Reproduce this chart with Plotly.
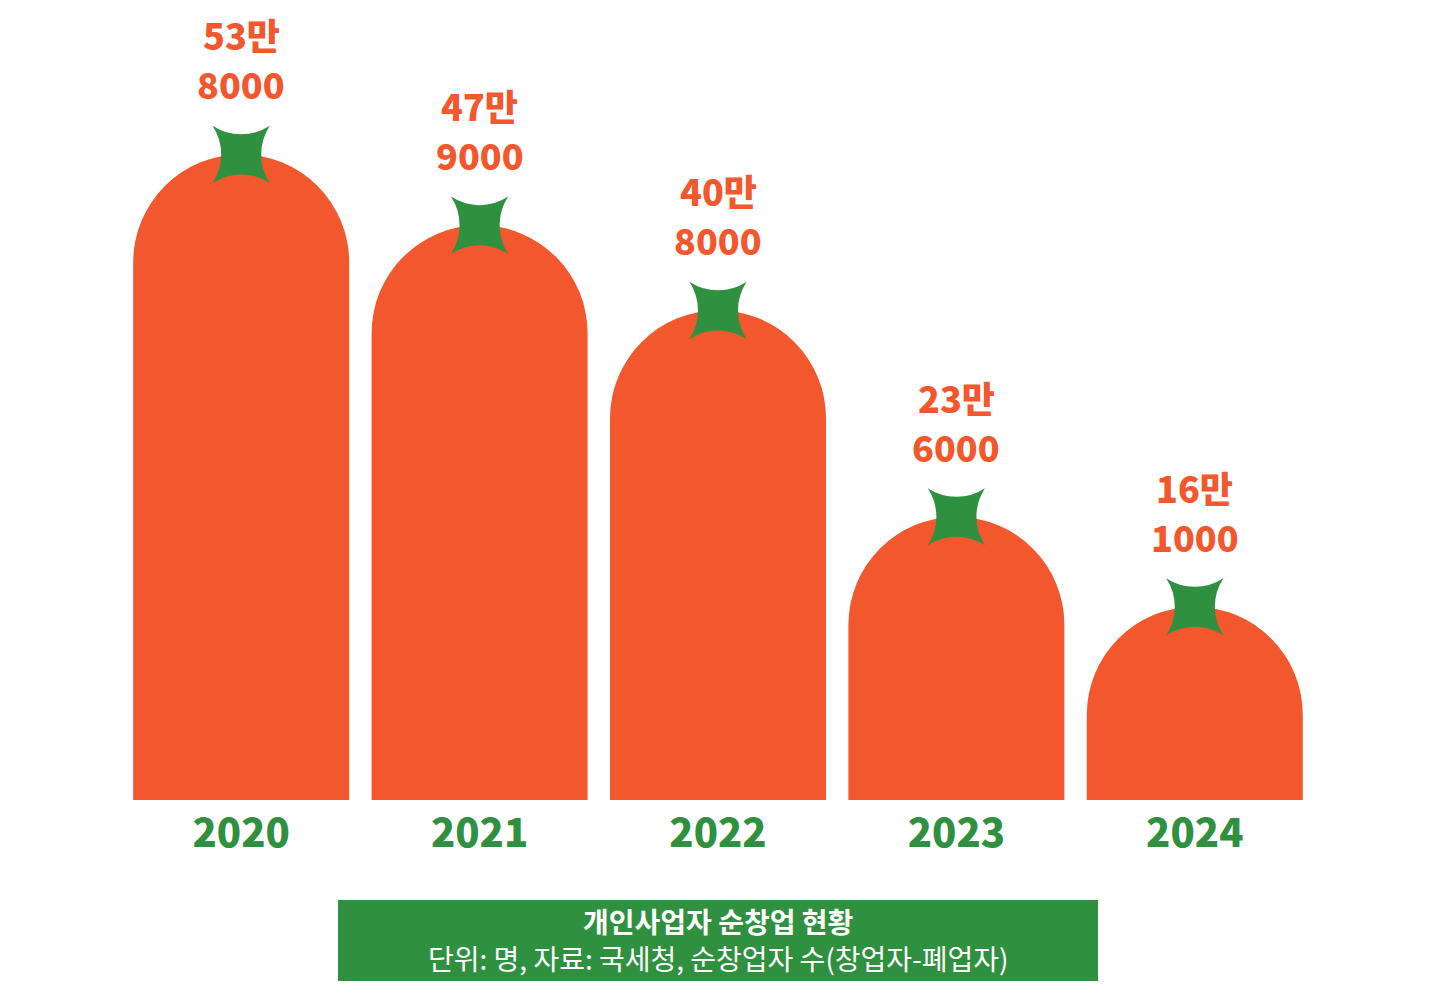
import plotly.graph_objects as go

# 개인사업자 순창업 현황 (단위: 명)
years = [2020, 2021, 2022, 2023, 2024]
year_labels = ["2020", "2021", "2022", "2023", "2024"]
net_startups = [538000, 479000, 408000, 236000, 161000]
label_man = ["53만", "47만", "40만", "23만", "16만"]
label_rest = ["8000", "9000", "8000", "6000", "1000"]

caption_title = "개인사업자 순창업 현황"
caption_note = "단위: 명, 자료: 국세청, 순창업자 수(창업자-폐업자)"

orange = "#F2572D"
green = "#2F9140"
font_face = "Noto Sans CJK KR"

fig = go.Figure()

# rounded-top bars
fig.add_trace(go.Bar(
    x=years,
    y=net_startups,
    width=0.906,
    marker=dict(color=orange, line=dict(width=0), cornerradius="50%"),
    hoverinfo="skip",
))

# green stem star on top of each bar
fig.add_trace(go.Scatter(
    x=years,
    y=net_startups,
    mode="markers",
    marker=dict(symbol="star-square", size=52, color=green, line=dict(width=0)),
    hoverinfo="skip",
    cliponaxis=False,
))

# value labels above the stars, two lines
label_font = dict(family=font_face, size=36, color=orange, weight=900)
for yr, val, top, bottom in zip(years, net_startups, label_man, label_rest):
    fig.add_annotation(x=yr, y=val, text=bottom, showarrow=False, borderpad=0,
                       yanchor="bottom", yshift=44, font=label_font)
    fig.add_annotation(x=yr, y=val, text=top, showarrow=False, borderpad=0,
                       yanchor="bottom", yshift=93, font=label_font)

# caption box
fig.add_shape(
    type="rect", xref="paper", yref="paper",
    x0=0.1812, x1=0.8188, y0=-0.2285, y1=-0.1263,
    fillcolor=green, line=dict(width=0), layer="below",
)
fig.add_annotation(
    xref="paper", yref="paper", x=0.5, y=-0.1530,
    text="<b>" + caption_title + "</b>", showarrow=False,
    yanchor="middle", borderpad=0,
    font=dict(family=font_face, size=28, color="white"),
)
fig.add_annotation(
    xref="paper", yref="paper", x=0.5, y=-0.2000,
    text=caption_note, showarrow=False,
    yanchor="middle", borderpad=0,
    font=dict(family=font_face, size=28, color="white"),
)

# page body adds 8px around the figure, so the figure is 16px smaller
fig.update_layout(
    width=1419, height=978,
    margin=dict(l=114, r=113, t=0, b=186),
    paper_bgcolor="white", plot_bgcolor="white",
    showlegend=False,
    xaxis=dict(
        range=[2019.5, 2024.5],
        tickmode="array", tickvals=years, ticktext=year_labels,
        showgrid=False, zeroline=False, showline=False, ticks="",
        tickfont=dict(family=font_face, size=40, color=green, weight=900),
        ticklabelstandoff=6,
    ),
    yaxis=dict(
        range=[0, 660000], showgrid=False, zeroline=False,
        showticklabels=False, showline=False,
    ),
)

fig.write_html("out.html")
